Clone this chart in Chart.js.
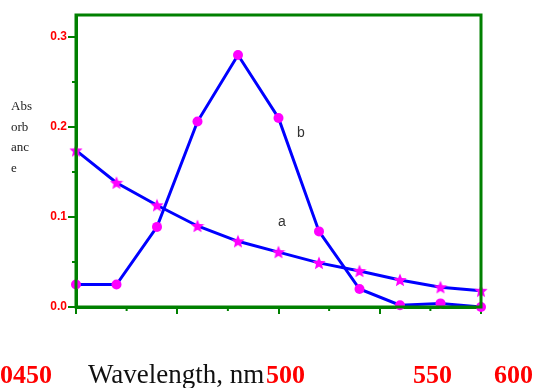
<!DOCTYPE html>
<html>
<head>
<meta charset="utf-8">
<script src="https://cdn.jsdelivr.net/npm/chart.js@4"></script>
<style>
  body { margin: 0; background: #fff; }
  #wrap { position: relative; width: 534px; height: 388px; }
  canvas { position: absolute; left: 0; top: 0; }
  .ylab { position: absolute; left: 11px; top: 96px; font: 13px "Liberation Serif", "Times New Roman", serif; line-height: 20.7px; color: #222; }
  .tag { position: absolute; font: 14px "Liberation Sans", Arial, sans-serif; color: #333; }
  .xl { position: absolute; top: 360px; font: bold 26px "Liberation Serif", "Times New Roman", serif; color: #ff0000; white-space: nowrap; }
  .xt { position: absolute; top: 359px; font: 27px "Liberation Serif", "Times New Roman", serif; color: #111; white-space: nowrap; }
</style>
</head>
<body>
<div id="wrap">
  <canvas id="chart" width="534" height="388"></canvas>
  <div class="ylab">Abs<br>orb<br>anc<br>e</div>
  <div class="tag" style="left:297px; top:124px;">b</div>
  <div class="tag" style="left:278px; top:213px;">a</div>
  <div class="xl" style="left:0px;">0450</div>
  <div class="xt" style="left:88px;">Wavelength, nm</div>
  <div class="xl" style="left:266px;">500</div>
  <div class="xl" style="left:413px;">550</div>
  <div class="xl" style="left:494px;">600</div>
</div>
<script>
const wavelengths = [450, 470, 490, 510, 530, 550, 570, 590, 610, 630, 650];
const seriesA = [0.174, 0.138, 0.113, 0.090, 0.073, 0.061, 0.049, 0.040, 0.030, 0.022, 0.018];
const seriesB = [0.025, 0.025, 0.089, 0.206, 0.280, 0.210, 0.084, 0.020, 0.002, 0.004, 0.0];
const yTicks = [0, 0.1, 0.2, 0.3];
const yMinor = [0.05, 0.15, 0.25];
const xTicks = [450, 500, 550, 600, 650];
const xMinor = [475, 525, 575, 625];

const green = '#008000';
const blue = '#0000ff';
const magenta = '#ff00ff';

// filled five point star used as point style
function makeStar(size) {
    const c = document.createElement('canvas');
    c.width = size; c.height = size;
    const g = c.getContext('2d');
    const r = size / 2, ri = r * 0.45;
    g.beginPath();
    for (let i = 0; i < 10; i++) {
        const rad = i % 2 ? ri : r;
        const a = -Math.PI / 2 + i * Math.PI / 5;
        g.lineTo(r + rad * Math.cos(a), r + 0.5 + rad * Math.sin(a));
    }
    g.closePath();
    g.fillStyle = magenta;
    g.fill();
    return c;
}

const frame = {
    id: 'frame',
    afterDraw(chart) {
        const { ctx, chartArea: a, scales } = chart;
        ctx.save();
        ctx.strokeStyle = green;
        ctx.lineWidth = 3;
        ctx.strokeRect(a.left, a.top, a.right - a.left, a.bottom - a.top);
        ctx.lineWidth = 2;
        ctx.beginPath();
        yMinor.forEach(v => {
            const y = scales.y.getPixelForValue(v);
            ctx.moveTo(a.left - 4, y); ctx.lineTo(a.left, y);
        });
        xMinor.forEach(v => {
            const x = scales.x.getPixelForValue(v);
            ctx.moveTo(x, a.bottom); ctx.lineTo(x, a.bottom + 4);
        });
        ctx.stroke();
        ctx.restore();
    }
};

new Chart(document.getElementById('chart'), {
    type: 'line',
    data: {
        datasets: [{
            label: 'a',
            data: wavelengths.map((w, i) => ({ x: w, y: seriesA[i] })),
            borderColor: blue,
            borderWidth: 3,
            pointStyle: makeStar(14),
            pointRadius: 7,
            clip: false
        }, {
            label: 'b',
            data: wavelengths.map((w, i) => ({ x: w, y: seriesB[i] })),
            borderColor: blue,
            borderWidth: 3,
            pointStyle: 'circle',
            pointRadius: 5,
            pointBackgroundColor: magenta,
            pointBorderWidth: 0,
            clip: false
        }]
    },
    options: {
        responsive: false,
        animation: false,
        layout: { padding: { top: 15, right: 53, left: 0, bottom: 0 } },
        plugins: { legend: { display: false }, tooltip: { enabled: false } },
        scales: {
            x: {
                type: 'linear',
                min: 450,
                max: 650,
                afterBuildTicks: s => { s.ticks = xTicks.map(v => ({ value: v })); },
                afterFit: s => { s.height = 81; },
                grid: { drawOnChartArea: false, color: green, lineWidth: 2, tickLength: 7 },
                border: { color: green, width: 3 },
                ticks: { callback: () => '' }
            },
            y: {
                min: 0,
                max: 0.3244,
                afterBuildTicks: s => { s.ticks = yTicks.map(v => ({ value: v })); },
                afterFit: s => { s.width = 76; },
                grid: { drawOnChartArea: false, color: green, lineWidth: 2, tickLength: 8 },
                border: { color: green, width: 3 },
                ticks: {
                    padding: 1,
                    color: '#ff0000',
                    font: { family: 'Liberation Sans, Arial, sans-serif', size: 12, weight: 'bold' },
                    callback: v => v.toFixed(1)
                }
            }
        }
    },
    plugins: [frame]
});
</script>
</body>
</html>
